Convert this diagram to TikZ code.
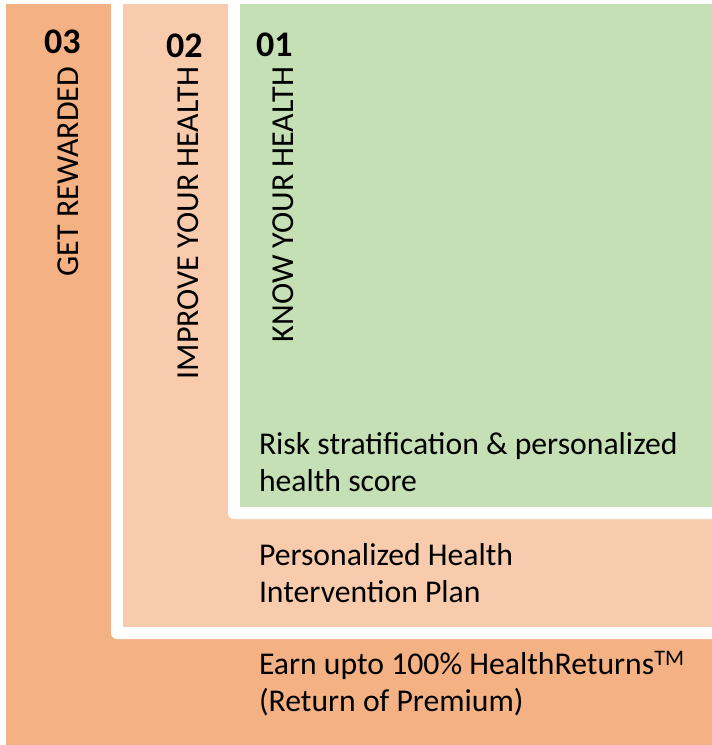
\documentclass[tikz,border=0pt]{standalone}
\usepackage{fontspec}
\setmainfont{Carlito}
\usepackage{xcolor}
\definecolor{rewardorange}{HTML}{F4B183}
\definecolor{improvepeach}{HTML}{F8CBAD}
\definecolor{knowgreen}{HTML}{C5E0B4}
\usetikzlibrary{positioning}

\begin{document}
\begin{tikzpicture}[x=1pt, y=-1pt,
every node/.style={inner sep=0pt, outer sep=0pt, text=black},
stepnum/.style={font=\fontsize{36}{36}\selectfont\bfseries, anchor=base west},
steptitle/.style={font=\fontsize{32}{32}\selectfont, rotate=90, anchor=base east},
stepdesc/.style={font=\fontsize{31.7}{36.5}\selectfont, align=left, anchor=base west}]
    \useasboundingbox (0,0) rectangle (712,745);
    \fill[white] (0,0) rectangle (712,745);
    \clip (0,0) rectangle (712,745);

    % nested layers
    \fill[rewardorange] (6,4) rectangle (730,760);
    \fill[white, rounded corners=6pt] (111,-20) rectangle (730,639);
    \fill[improvepeach] (123,4) rectangle (730,627);
    \fill[white, rounded corners=6pt] (228,-20) rectangle (730,519);
    \fill[knowgreen] (240,4) rectangle (730,507);

    % step numbers and titles
    \node[stepnum] (num3) at (44,53) {03};
    \node[stepnum] (num2) at (166,57) {02};
    \node[stepnum] (num1) at (256,56) {01};
    \node[steptitle] (title3) at (78,67) {GET REWARDED};
    \node[steptitle] (title2) at (198,67) {IMPROVE YOUR HEALTH};
    \node[steptitle] (title1) at (293,67) {KNOW YOUR HEALTH};

    % descriptions (anchored at the last line)
    \node[stepdesc] (desc1) at (259,491) {Risk stratification \& personalized\\health score};
    \node[stepdesc] (desc2) at (259,602) {Personalized Health\\Intervention Plan};
    \node[stepdesc] (desc3) at (259,711) {Earn upto 100\% HealthReturns\textsuperscript{TM}\\(Return of Premium)};
\end{tikzpicture}
\end{document}
